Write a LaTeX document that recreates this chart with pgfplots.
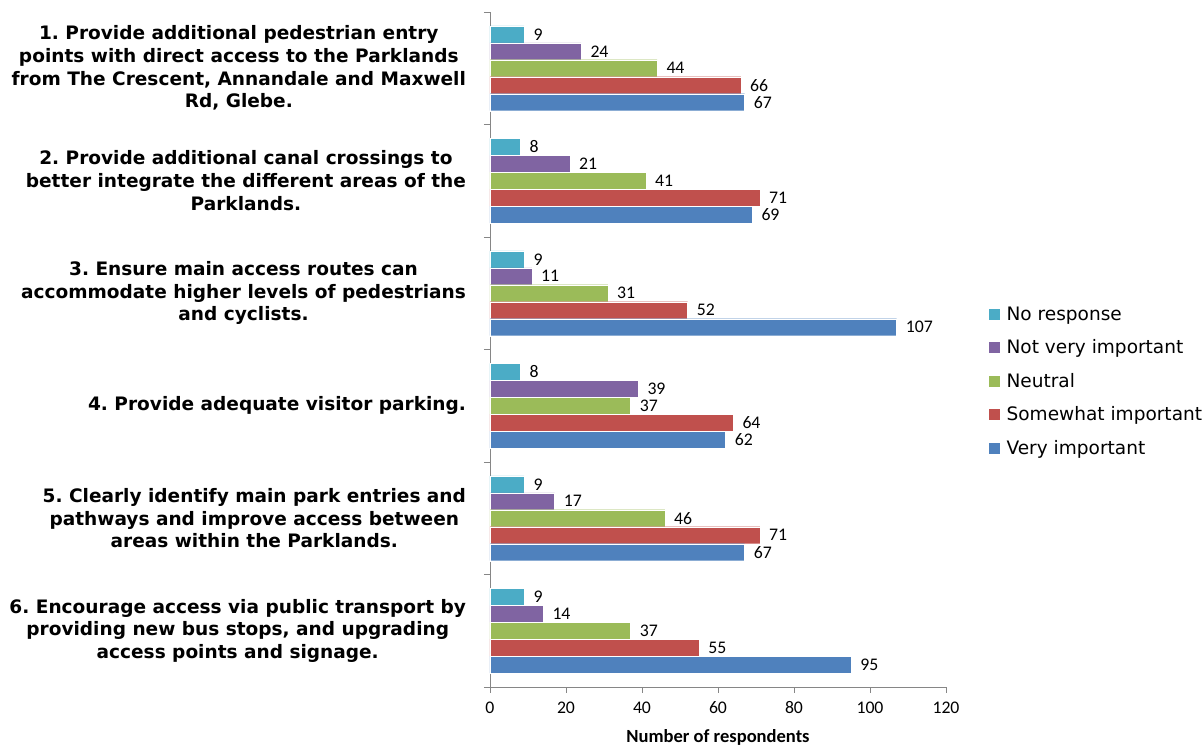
\documentclass[border=0pt]{standalone}
\usepackage{fontspec}
\setmainfont{Carlito}
\newfontfamily\verdana{DejaVu Sans}
\usepackage{pgfplots}
\pgfplotsset{compat=1.18}
\definecolor{cNR}{HTML}{4BACC6}
\definecolor{cNV}{HTML}{8064A2}
\definecolor{cNE}{HTML}{9BBB59}
\definecolor{cSW}{HTML}{C0504D}
\definecolor{cVI}{HTML}{4F81BD}
\definecolor{axgray}{HTML}{868686}
\frenchspacing
\begin{document}
\begin{tikzpicture}
\useasboundingbox (-367.5pt,-43.5pt) rectangle (535.5pt,515.25pt);
\begin{axis}[
  at={(0,0)}, anchor=south west,
  scale only axis, width=342pt, height=506.25pt,
  xbar, bar width=0.151,
  xmin=0, xmax=120, ymin=0.5, ymax=6.5,
  xtick={0,20,...,120},
  ytick={1,...,6},
  yticklabels={
    {6. Encourage access via public transport by\\providing new bus stops, and upgrading\\access points and signage.},
    {5. Clearly identify main park entries and\\pathways and improve access between\\areas within the Parklands.},
    {4. Provide adequate visitor parking.},
    {3. Ensure main access routes can\\accommodate higher levels of pedestrians\\and cyclists.},
    {2. Provide additional canal crossings to\\better integrate the different areas of the\\Parklands.},
    {1. Provide additional pedestrian entry\\points with direct access to the Parklands\\from The Crescent, Annandale and Maxwell\\Rd, Glebe.}},
  yticklabel style={align=center, anchor=east, xshift=-10pt,
    font=\verdana\bfseries\fontsize{13.9}{17}\selectfont},
  minor ytick={0.5,1.5,...,6.5},
  major y tick style={draw=none},
  axis lines=left, axis line style={-, draw=axgray},
  tick align=outside,
  major tick length=4.5pt, minor tick length=4.5pt,
  tick style={axgray},
  /pgf/number format/assume math mode=true,
  xticklabel style={font=\fontsize{13.3}{16}\selectfont, yshift=-3pt},
  xlabel={\textbf{Number of respondents}},
  xlabel style={font=\fontsize{13.9}{16}\selectfont, yshift=-4.5pt},
  nodes near coords,
  every node near coord/.append style={font=\fontsize{13.3}{16}\selectfont, black, xshift=3.5pt},
  legend style={at={(1,0.5)}, anchor=west, xshift=29pt, yshift=-24pt,
    draw=none, fill=none, font=\verdana\fontsize{13.9}{16}\selectfont,
    row sep=9pt, nodes={inner xsep=5pt}},
  legend cell align=left,
  legend image code/.code={\path[#1, draw=none] (0pt,-4.1pt) rectangle (8.25pt,4.1pt);},
]
\addplot[fill=cNR, draw=white, line width=0.3pt, bar shift=0.302] coordinates {(9,6) (8,5) (9,4) (8,3) (9,2) (9,1)};
\addplot[fill=cNV, draw=white, line width=0.3pt, bar shift=0.151] coordinates {(24,6) (21,5) (11,4) (39,3) (17,2) (14,1)};
\addplot[fill=cNE, draw=white, line width=0.3pt, bar shift=0] coordinates {(44,6) (41,5) (31,4) (37,3) (46,2) (37,1)};
\addplot[fill=cSW, draw=white, line width=0.3pt, bar shift=-0.151] coordinates {(66,6) (71,5) (52,4) (64,3) (71,2) (55,1)};
\addplot[fill=cVI, draw=white, line width=0.3pt, bar shift=-0.302] coordinates {(67,6) (69,5) (107,4) (62,3) (67,2) (95,1)};
\legend{No response, Not very important, Neutral, Somewhat important, Very important}
\end{axis}
\end{tikzpicture}
\end{document}
